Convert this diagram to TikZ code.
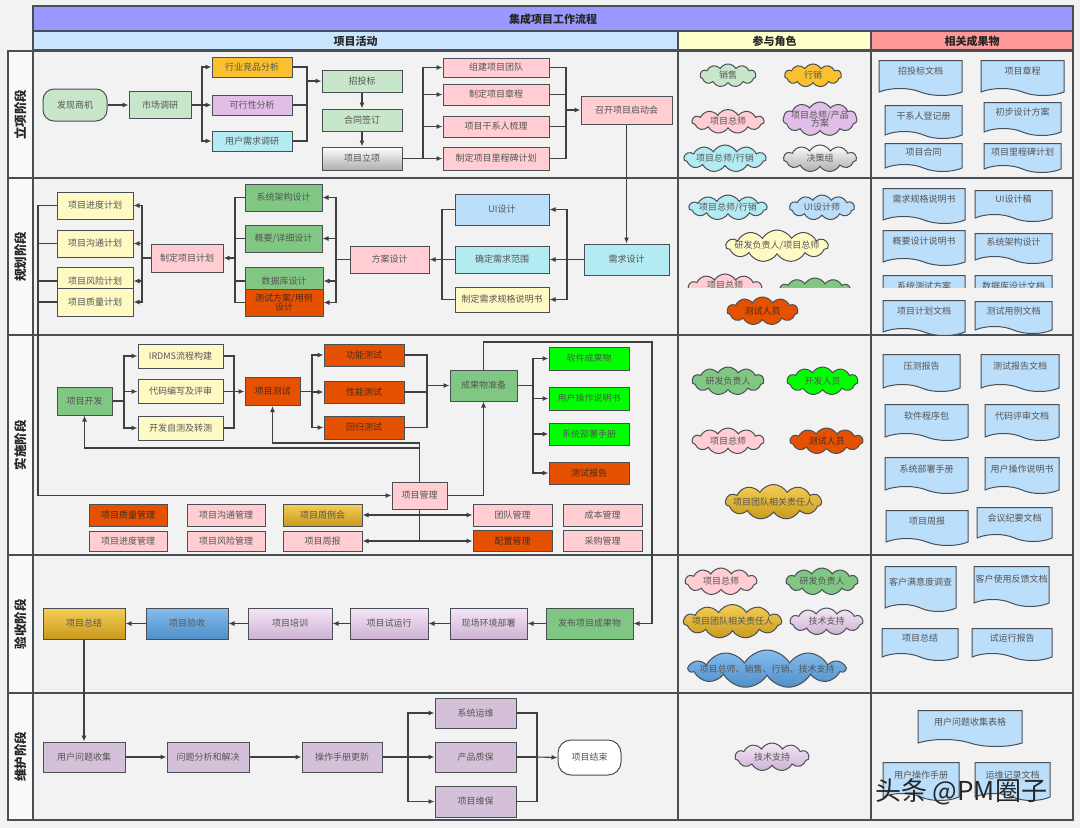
\documentclass[tikz,border=0pt]{standalone}
\usepackage{fontspec}
\setmainfont{Noto Sans CJK SC}
\usetikzlibrary{shapes.symbols,arrows.meta}
\definecolor{bgc}{HTML}{F2F2F2}
\definecolor{bdc}{HTML}{4A4F55}
\definecolor{lc}{HTML}{404040}
\definecolor{txt}{HTML}{555555}
\definecolor{otx}{HTML}{4A2A1A}
\definecolor{gl}{HTML}{C8E6C9}
\definecolor{gd}{HTML}{FBC02D}
\definecolor{lv}{HTML}{E1BEE7}
\definecolor{cy}{HTML}{B2EBF2}
\definecolor{pk}{HTML}{FFCDD2}
\definecolor{gm}{HTML}{81C784}
\definecolor{yl}{HTML}{FFF9C4}
\definecolor{bl}{HTML}{BBDEFB}
\definecolor{og}{HTML}{E65100}
\definecolor{lm}{HTML}{00FF00}
\definecolor{mv}{HTML}{D5C0D9}
\definecolor{ttl}{HTML}{9999FF}
\definecolor{hA}{HTML}{CCE5FF}
\definecolor{hB}{HTML}{FFFFCC}
\definecolor{hC}{HTML}{FF9999}
\definecolor{goldT}{HTML}{F5CE55}
\definecolor{goldB}{HTML}{C99A1E}
\definecolor{bluT}{HTML}{85BDEE}
\definecolor{bluB}{HTML}{4F8FC8}
\definecolor{lavT}{HTML}{F5E6F7}
\definecolor{lavB}{HTML}{CDB2D3}
\newcommand\fsz{\fontsize{9}{10.5}\selectfont}
\begin{document}
\begin{tikzpicture}[x=1pt,y=-1pt,
  bx/.style 2 args={draw=bdc, line width=1pt, rectangle, minimum width=#1pt, minimum height=#2pt, inner sep=1pt, text=txt, font=\fsz, align=center},
  obx/.style 2 args={bx={#1}{#2}, fill=og, text=otx},
  cl/.style 2 args={cloud, cloud puffs=11, cloud puff arc=120, cloud ignores aspect, draw=bdc, line width=1pt, minimum width=#1pt, minimum height=#2pt, inner sep=0pt},
  docs/.style 2 args={tape, tape bend top=none, tape bend bottom=out and in, tape bend height=7pt, draw=bdc, line width=1pt, minimum width=#1pt, minimum height=#2pt, inner sep=0pt, fill=bl},
  every label/.append style={font=\fsz, text=txt, align=center, inner sep=0pt},
  cn/.style={draw=lc, line width=1.1pt},
  ar/.style={draw=lc, line width=1.1pt, -{Latex[length=6pt,width=5pt]}},
  dar/.style={draw=lc, line width=1.1pt, {Latex[length=6pt,width=5pt]}-{Latex[length=6pt,width=5pt]}},
  gGray/.style={top color=white, bottom color=black!32},
  gGold/.style={top color=goldT, bottom color=goldB},
  gBlue/.style={top color=bluT, bottom color=bluB},
  gLav/.style={top color=lavT, bottom color=lavB},
  lane/.style={draw=bdc, line width=1.6pt},
  hd/.style={font=\bfseries\fontsize{11}{13}\selectfont, text=black!85},
  stg/.style={font=\bfseries\fontsize{12.5}{14}\selectfont, text=black!85, rotate=90}
]
\useasboundingbox (0,0) rectangle (1080,828);
\fill[bgc] (0,0) rectangle (1080,828);
% ---------- frame ----------
\fill[white!50!bgc] (8,51) rectangle (33,820);
\draw[lane, fill=ttl] (33,6) rectangle (1073,31);
\draw[lane, fill=hA] (33,31) rectangle (678,50);
\draw[lane, fill=hB] (678,31) rectangle (871,50);
\draw[lane, fill=hC] (871,31) rectangle (1073,50);
\draw[lane] (8,51) rectangle (1073,820);
\draw[lane] (33,51) -- (33,820);
\draw[lane] (678,51) -- (678,820);
\draw[lane] (871,51) -- (871,820);
\foreach \yy in {178,335,555,693} { \draw[lane] (8,\yy) -- (1073,\yy); }
\node[hd] (tt) at (553,19) {集成项目工作流程};
\node[hd] (ha) at (355.5,41) {项目活动};
\node[hd] (hb) at (774.5,41) {参与角色};
\node[hd] (hc) at (972,41) {相关成果物};
\node[stg] (st1) at (20.5,114.5) {立项阶段};
\node[stg] (st2) at (20.5,256.5) {规划阶段};
\node[stg] (st3) at (20.5,445) {实施阶段};
\node[stg] (st4) at (20.5,624) {验收阶段};
\node[stg] (st5) at (20.5,756.5) {维护阶段};

% ---------- stage 1 ----------
\node[bx={64}{32}, fill=gl, rounded corners=11pt] (fx) at (75,105) {发现商机};
\node[bx={62}{27}, fill=gl] (sc) at (160,105) {市场调研};
\node[bx={80}{20}, fill=gd] (hy) at (252,67) {行业竞品分析};
\node[bx={80}{20}, fill=lv] (kx) at (252,105) {可行性分析};
\node[bx={80}{20}, fill=cy] (yh) at (252,141) {用户需求调研};
\node[bx={80}{22}, fill=gl] (zt) at (362,81) {招投标};
\node[bx={80}{22}, fill=gl] (ht) at (362,120) {合同签订};
\node[bx={80}{23}, gGray, draw=bdc] (lx) at (362,158.5) {项目立项};
\node[bx={106}{19}, fill=pk] (zj) at (496,67.5) {组建项目团队};
\node[bx={106}{21}, fill=pk] (zc) at (496,94.5) {制定项目章程};
\node[bx={106}{21}, fill=pk] (gx) at (496,126.5) {项目干系人梳理};
\node[bx={106}{23}, fill=pk] (lcb) at (496,158.5) {制定项目里程碑计划};
\node[bx={91}{28}, fill=pk] (qd) at (626.5,110) {召开项目启动会};

\draw[ar] (fx.east) -- (sc.west);
\coordinate (j1) at (202,105);
\draw[cn] (sc.east) -- (j1);
\draw[ar] (j1) |- (hy.west);
\draw[ar] (j1) -- (kx.west);
\draw[ar] (j1) |- (yh.west);
\coordinate (j2) at (307,81);
\draw[cn] (hy.east) -| (j2);
\draw[cn] (yh.east) -| (j2);
\draw[cn] (kx.east) -- (kx.east -| j2);
\draw[ar] (j2) -- (zt.west);
\draw[ar] (zt.south) -- (ht.north);
\draw[ar] (ht.south) -- (lx.north);
\coordinate (j3) at (423,158.5);
\draw[cn] (lx.east) -- (j3);
\draw[ar] (j3) |- (zj.west);
\draw[ar] (j3) |- (zc.west);
\draw[ar] (j3) |- (gx.west);
\draw[ar] (j3) -- (lcb.west);
\coordinate (j4) at (566,110);
\draw[cn] (zj.east) -| (j4);
\draw[cn] (lcb.east) -| (j4);
\draw[cn] (zc.east) -- (zc.east -| j4);
\draw[cn] (gx.east) -- (gx.east -| j4);
\draw[ar] (j4) -- (qd.west);

% roles 1
\node[cl={56}{23}, fill=gl, label={center:销售}] (r11) at (728,75.5) {};
\node[cl={57}{23}, fill=gd, label={center:行销}] (r12) at (813,75.5) {};
\node[cl={72}{24}, fill=pk, label={center:项目总师}] (r13) at (728,121.5) {};
\node[cl={74}{34}, fill=lv, label={center:项目总师/产品\\[-2pt]方案}] (r14) at (820,119) {};
\node[cl={82}{27}, fill=cy, label={center:项目总师/行销}] (r15) at (725,158.5) {};
\node[cl={73}{27}, gGray, draw=bdc, label={center:决策组}] (r16) at (820,158.5) {};
% docs 1
\node[docs={83}{35}, label={[yshift=3pt]center:招投标文档}] (d11) at (920.5,74.5) {};
\node[docs={83}{35}, label={[yshift=3pt]center:项目章程}] (d12) at (1022.5,74.5) {};
\node[docs={77}{33}, label={[yshift=2pt]center:干系人登记册}] (d13) at (923.5,118.5) {};
\node[docs={77}{33}, label={[yshift=3pt]center:初步设计方案}] (d14) at (1022.5,115.5) {};
\node[docs={77}{28}, label={[yshift=2pt]center:项目合同}] (d15) at (923.5,154) {};
\node[docs={77}{29}, label={[yshift=2pt]center:项目里程碑计划}] (d16) at (1022.5,154.5) {};

% ---------- stage 2 ----------
\node[bx={76}{27}, fill=yl] (p1) at (95,205.5) {项目进度计划};
\node[bx={76}{27}, fill=yl] (p2) at (95,243.5) {项目沟通计划};
\node[bx={76}{27}, fill=yl] (p3) at (95,281) {项目风险计划};
\node[bx={76}{28}, fill=yl] (p4) at (95,302) {项目质量计划};
\node[bx={72}{28}, fill=pk] (zd) at (187,258) {制定项目计划};
\node[bx={77}{27}, fill=gm] (ds1) at (283.5,197.5) {系统架构设计};
\node[bx={77}{27}, fill=gm] (ds2) at (283.5,238.5) {概要/详细设计};
\node[bx={78}{28}, fill=gm] (ds3) at (284,281) {数据库设计};
\node[obx={78}{27}] (ds4) at (284,302.5) {测试方案/用例\\[-2pt]设计};
\node[bx={79}{27}, fill=pk] (fa) at (389.5,259.5) {方案设计};
\node[bx={94}{31}, fill=bl] (ui) at (502,209.5) {UI设计};
\node[bx={94}{27}, fill=cy] (qr) at (502,259.5) {确定需求范围};
\node[bx={94}{25}, fill=yl] (gg) at (502,299.5) {制定需求规格说明书};
\node[bx={85}{31}, fill=cy] (xq) at (626.5,259.5) {需求设计};

\draw[ar] (qd.south) -- (xq.north);
\coordinate (j5) at (567,259.5);
\draw[cn] (xq.west) -- (j5);
\draw[ar] (j5) |- (ui.east);
\draw[ar] (j5) -- (qr.east);
\draw[ar] (j5) |- (gg.east);
\coordinate (j6) at (442,259.5);
\draw[cn] (ui.west) -| (j6);
\draw[cn] (gg.west) -| (j6);
\draw[ar] (qr.west) -- (fa.east);
\coordinate (j7) at (336,259.5);
\draw[cn] (fa.west) -- (j7);
\draw[ar] (j7) |- (ds1.east);
\draw[ar] (j7) |- (ds2.east);
\draw[ar] (j7) |- (ds3.east);
\draw[ar] (j7) |- (ds4.east);
\coordinate (j8) at (235,258);
\draw[cn] (ds1.west) -| (j8);
\draw[cn] (ds4.west) -| (j8);
\draw[cn] (ds2.west) -- (ds2.west -| j8);
\draw[cn] (ds3.west) -- (ds3.west -| j8);
\draw[ar] (j8) -- (zd.east);
\coordinate (j9) at (142,258);
\draw[cn] (zd.west) -- (j9);
\draw[ar] (j9) |- (p1.east);
\draw[ar] (j9) |- (p2.east);
\draw[ar] (j9) |- (p3.east);
\draw[ar] (j9) |- (p4.east);
\coordinate (j10) at (38,495.5);
\draw[cn] (p1.west) -| (j10);
\draw[cn] (p2.west) -- (p2.west -| j10);
\draw[cn] (p3.west) -- (p3.west -| j10);
\draw[cn] (p4.west) -- (p4.west -| j10);

% roles 2
\node[cl={78}{25}, fill=cy, label={center:项目总师/行销}] (r21) at (728,207.5) {};
\node[cl={65}{25}, fill=bl, label={center:UI设计师}] (r22) at (822,207.5) {};
\node[cl={102}{32}, fill=yl, label={center:研发负责人/项目总师}] (r23) at (777,246) {};
\begin{scope}
\clip (680,260) rectangle (1070,287.5);
\node[cl={74}{28}, fill=pk, label={[yshift=2.5pt]center:项目总师}] (r24) at (725,288) {};
\node[cl={70}{22}, fill=gm] (r25) at (815,289) {};
\node[docs={82}{35}, label={[yshift=3.5pt]center:系统测试方案}] (d25) at (924,289.5) {};
\node[docs={77}{33}, label={[yshift=2.5pt]center:数据库设计文档}] (d26) at (1013.5,288.5) {};
\end{scope}
\node[cl={71}{28}, fill=og, label={[text=otx]center:测试人员}] (r26) at (762.5,311) {};
% docs 2
\node[docs={82}{35}, label={[yshift=3pt]center:需求规格说明书}] (d21) at (924,202.5) {};
\node[docs={77}{31}, label={[yshift=3pt]center:UI设计稿}] (d22) at (1013.5,202.5) {};
\node[docs={82}{35}, label={[yshift=3pt]center:概要设计说明书}] (d23) at (924,244.5) {};
\node[docs={77}{30}, label={[yshift=3pt]center:系统架构设计}] (d24) at (1013.5,245) {};
\node[docs={82}{35}, label={[yshift=3pt]center:项目计划文档}] (d27) at (924,314.5) {};
\node[docs={77}{32}, label={[yshift=3pt]center:测试用例文档}] (d28) at (1013.5,314) {};

% ---------- stage 3 ----------
\node[bx={55}{28}, fill=gm] (kf) at (84.5,401) {项目开发};
\node[bx={85}{24}, fill=yl] (ir) at (180.5,356) {IRDMS流程构建};
\node[bx={85}{24}, fill=yl] (dm) at (180.5,391.5) {代码编写及评审};
\node[bx={85}{24}, fill=yl] (zs) at (180.5,428) {开发自测及转测};
\node[obx={55}{28}] (cs) at (272.5,391.5) {项目测试};
\node[obx={80}{22}] (gn) at (364,355) {功能测试};
\node[obx={80}{22}] (xn) at (364,392) {性能测试};
\node[obx={80}{23}] (hg) at (364,427.5) {回归测试};
\node[bx={67}{31}, fill=gm] (cg) at (483.5,385.5) {成果物准备};
\node[bx={80}{23}, fill=lm] (rj) at (589,358.5) {软件成果物};
\node[bx={80}{23}, fill=lm] (yc) at (589,398.5) {用户操作说明书};
\node[bx={80}{22}, fill=lm] (xt) at (589,434) {系统部署手册};
\node[obx={80}{22}] (cb) at (589,473) {测试报告};
\node[bx={55}{27}, fill=pk] (pm) at (419.5,495.5) {项目管理};
\node[obx={78}{22}] (g1) at (128,515) {项目质量管理};
\node[bx={78}{22}, fill=pk] (g2) at (226,515) {项目沟通管理};
\node[bx={79}{22}, gGold, draw=bdc] (g3) at (322.5,515) {项目周例会};
\node[bx={78}{20}, fill=pk] (g4) at (128,541) {项目进度管理};
\node[bx={78}{20}, fill=pk] (g5) at (226,541) {项目风险管理};
\node[bx={79}{20}, fill=pk] (g6) at (322.5,541) {项目周报};
\node[bx={79}{22}, fill=pk] (g7) at (512.5,515) {团队管理};
\node[bx={79}{22}, fill=pk] (g8) at (602.5,515) {成本管理};
\node[obx={79}{21}] (g9) at (512.5,541) {配置管理};
\node[bx={79}{21}, fill=pk] (g10) at (602.5,541) {采购管理};

\draw[ar] (j10) -- (pm.west);
\coordinate (j11) at (124,401);
\draw[cn] (kf.east) -- (j11);
\draw[ar] (j11) |- (ir.west);
\draw[ar] (j11) |- (dm.west);
\draw[ar] (j11) |- (zs.west);
\coordinate (j12) at (234,391.5);
\draw[cn] (ir.east) -| (j12);
\draw[cn] (zs.east) -| (j12);
\draw[cn] (dm.east) -- (j12);
\draw[ar] (j12) -- (cs.west);
\coordinate (j13) at (312,391.5);
\draw[cn] (cs.east) -- (j13);
\draw[ar] (j13) |- (gn.west);
\draw[ar] (j13) |- (xn.west);
\draw[ar] (j13) |- (hg.west);
\coordinate (j14) at (427,385.5);
\draw[cn] (gn.east) -| (j14);
\draw[cn] (hg.east) -| (j14);
\draw[cn] (xn.east) -- (xn.east -| j14);
\draw[ar] (j14) -- (cg.west);
\coordinate (j15) at (533,385.5);
\draw[cn] (cg.east) -- (j15);
\draw[ar] (j15) |- (rj.west);
\draw[ar] (j15) |- (yc.west);
\draw[ar] (j15) |- (xt.west);
\draw[ar] (j15) |- (cb.west);
\coordinate (j16) at (419.5,443);
\coordinate (j17) at (419.5,448);
\draw[ar] (pm.north) -- (j16) -| (cs.south);
\draw[ar] (j17) -| (kf.south);
\draw[ar] (pm.east) -| (cg.south);
\draw[cn] (pm.south) -- (pm.south |- g9.west);
\draw[dar] (g3.east) -- (g7.west);
\draw[dar] (g6.east) -- (g9.west);

% roles 3
\node[cl={72}{28}, fill=gm, label={center:研发负责人}] (r31) at (728,381) {};
\node[cl={71}{28}, fill=lm, label={center:开发人员}] (r32) at (822.5,381) {};
\node[cl={72}{26}, fill=pk, label={center:项目总师}] (r33) at (728,441) {};
\node[cl={73}{26}, fill=og, label={[text=otx]center:测试人员}] (r34) at (826.5,441) {};
\node[cl={96}{35}, gGold, draw=bdc, label={center:项目团队相关责任人}] (r35) at (773.5,502) {};
% docs 3
\node[docs={77}{37}, label={[yshift=3pt]center:压测报告}] (d31) at (921.5,369.5) {};
\node[docs={78}{37}, label={[yshift=3pt]center:测试报告文档}] (d32) at (1020,369.5) {};
\node[docs={83}{36}, label={[yshift=3pt]center:软件程序包}] (d33) at (926.5,419) {};
\node[docs={74}{36}, label={[yshift=3pt]center:代码评审文档}] (d34) at (1022,419) {};
\node[docs={83}{36}, label={[yshift=3pt]center:系统部署手册}] (d35) at (926.5,472) {};
\node[docs={74}{36}, label={[yshift=3pt]center:用户操作说明书}] (d36) at (1022,472) {};
\node[docs={82}{35}, label={[yshift=3pt]center:项目周报}] (d37) at (927,524.5) {};
\node[docs={75}{34}, label={[yshift=3pt]center:会议纪要文档}] (d38) at (1014.5,521) {};

% ---------- stage 4 ----------
\node[bx={82}{31}, gGold, draw=bdc] (a1) at (84,623.5) {项目总结};
\node[bx={82}{31}, gBlue, draw=bdc] (a2) at (187,623.5) {项目验收};
\node[bx={84}{31}, gLav, draw=bdc] (a3) at (290,623.5) {项目培训};
\node[bx={78}{31}, gLav, draw=bdc] (a4) at (389,623.5) {项目试运行};
\node[bx={77}{31}, gLav, draw=bdc] (a5) at (488.5,623.5) {现场环境部署};
\node[bx={87}{31}, fill=gm] (a6) at (589.5,623.5) {发布项目成果物};
\coordinate (j18) at (652,342);
\draw[ar] (cg.north) |- (j18) |- (a6.east);
\draw[ar] (a6.west) -- (a5.east);
\draw[ar] (a5.west) -- (a4.east);
\draw[ar] (a4.west) -- (a3.east);
\draw[ar] (a3.west) -- (a2.east);
\draw[ar] (a2.west) -- (a1.east);
% roles 4
\node[cl={72}{27}, fill=pk, label={center:项目总师}] (r41) at (721,581.5) {};
\node[cl={72}{27}, fill=gm, label={center:研发负责人}] (r42) at (822,581.5) {};
\node[cl={98}{34}, gGold, draw=bdc, label={center:项目团队相关责任人}] (r43) at (732.5,621.5) {};
\node[cl={73}{27}, gLav, draw=bdc, label={center:技术支持}] (r44) at (826.5,621.5) {};
\node[cl={156}{38}, gBlue, draw=bdc, label={center:项目总师、销售、行销、技术支持}] (r45) at (767,669) {};
% docs 4
\node[docs={71}{45}, label={[yshift=3pt]center:客户满意度调查}] (d41) at (920.5,585.5) {};
\node[docs={75}{40}, label={[yshift=4pt]center:客户使用反馈文档}] (d42) at (1011.5,583) {};
\node[docs={76}{32}, label={[yshift=3pt]center:项目总结}] (d43) at (920,641) {};
\node[docs={80}{32}, label={[yshift=3pt]center:试运行报告}] (d44) at (1012,641) {};

% ---------- stage 5 ----------
\node[bx={82}{30}, fill=mv] (u1) at (84,757) {用户问题收集};
\node[bx={82}{30}, fill=mv] (u2) at (208,757) {问题分析和解决};
\node[bx={80}{30}, fill=mv] (u3) at (342,757) {操作手册更新};
\node[bx={81}{30}, fill=mv] (u4) at (475.5,713) {系统运维};
\node[bx={81}{30}, fill=mv] (u5) at (475.5,757) {产品质保};
\node[bx={81}{31}, fill=mv] (u6) at (475.5,801.5) {项目维保};
\node[bx={63}{35}, fill=white, rounded corners=13pt] (ed) at (589.5,757.5) {项目结束};
\draw[ar] (a1.south) -- (u1.north);
\draw[ar] (u1.east) -- (u2.west);
\draw[ar] (u2.east) -- (u3.west);
\coordinate (j19) at (408,757);
\draw[cn] (u3.east) -- (j19);
\draw[ar] (j19) |- (u4.west);
\draw[ar] (j19) -- (u5.west);
\draw[ar] (j19) |- (u6.west);
\coordinate (j20) at (537,757);
\draw[cn] (u4.east) -| (j20);
\draw[cn] (u6.east) -| (j20);
\draw[cn] (u5.east) -- (j20);
\draw[ar] (j20) -- (ed.west);
\node[cl={74}{28}, gLav, draw=bdc, label={center:技术支持}] (r51) at (772,757) {};
\node[docs={104}{36}, label={[yshift=3pt]center:用户问题收集表格}] (d51) at (970,725) {};
\node[docs={76}{38}, label={[yshift=3pt]center:用户操作手册}] (d52) at (921,778) {};
\node[docs={75}{38}, label={[yshift=3pt]center:运维记录文档}] (d53) at (1012.5,778) {};
\node[font=\fontsize{26}{28}\selectfont, text=black!85] (wm) at (961,792) {头条 @PM圈子};
\end{tikzpicture}
\end{document}
